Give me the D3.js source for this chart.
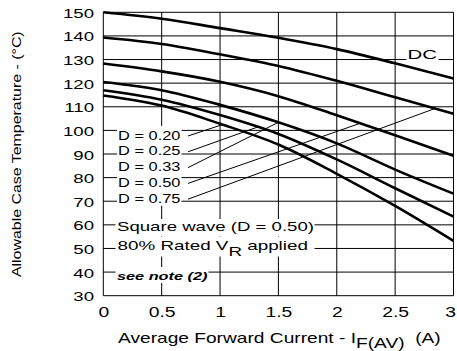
<!DOCTYPE html>
<html><head><meta charset="utf-8">
<script src="https://cdn.jsdelivr.net/npm/d3@7"></script>
<style>
body{margin:0;background:#fff}
svg{display:block}
text{font-family:"Liberation Sans",Arial,Helvetica,sans-serif;fill:#000}
</style>
</head><body>
<svg id="c" width="457" height="351"></svg>
<script>
// ---- data ----
const currents = [0, 0.5, 1, 1.5, 2, 2.5, 3];
const tempDC   = [150, 147.3, 143.3, 139.2, 134.4, 128.4, 122];
const tempD075 = [139.3, 136.6, 132.2, 127.3, 121, 114, 107];
const tempD050 = [128.3, 125, 120.6, 114.5, 106.4, 97.9, 89.3];
const tempD033 = [120.5, 117, 110.8, 103.4, 94.5, 83.4, 73.2];
const tempD025 = [117, 113, 106.5, 98.5, 87.7, 75.5, 63.5];
const tempD020 = [114.8, 110.5, 102.8, 94, 81.6, 68, 53.2];
const seriesTemps = [tempDC, tempD075, tempD050, tempD033, tempD025, tempD020];

const dutyLabels = ["D = 0.20", "D = 0.25", "D = 0.33", "D = 0.50", "D = 0.75"];
const dutySeries = [tempD020, tempD025, tempD033, tempD050, tempD075];
const dutyLeaderCurrent = [1.02, 1.32, 1.5, 2.2, 2.84];

const xTicks = [0, 0.5, 1, 1.5, 2, 2.5, 3];
const xTickLabels = ["0", "0.5", "1", "1.5", "2", "2.5", "3"];
const yTicks = [30, 40, 50, 60, 70, 80, 90, 100, 110, 120, 130, 140, 150];

const yTitle = "Allowable Case Temperature - (°C)";
const xTitleMain = "Average Forward Current - I";
const xTitleSub = "F(AV)";
const xTitleUnit = "\u00A0\u00A0(A)";
const dcLabel = "DC";
const noteLine1 = "Square wave (D = 0.50)";
const noteLine2a = "80% Rated V";
const noteLine2b = "R";
const noteLine2c = " applied";
const noteLine3 = "see note (2)";

// ---- chart ----
const svg = d3.select("#c");
const x = d3.scaleLinear().domain([0, 3]).range([103.3, 453.5]);
const y = d3.scaleLinear().domain([30, 150]).range([295.7, 12.3]);
const STRETCH = 1.38;

// grid
const grid = svg.append("g").attr("stroke", "#000").attr("stroke-width", 1);
grid.selectAll("line.v").data(xTicks).join("line").attr("class", "v")
  .attr("x1", d => x(d)).attr("x2", d => x(d))
  .attr("y1", y(30)).attr("y2", y(150));
grid.selectAll("line.h").data(yTicks).join("line").attr("class", "h")
  .attr("x1", x(0)).attr("x2", x(3))
  .attr("y1", d => y(d)).attr("y2", d => y(d));

// axes
const gx = svg.append("g").attr("transform", `translate(0,${y(30)})`)
  .call(d3.axisBottom(x).tickValues(xTicks).tickFormat((d, i) => xTickLabels[i]).tickSize(0).tickPadding(11));
gx.select(".domain").remove();
gx.attr("font-size", 14).attr("font-family", null);
gx.selectAll("text").attr("font-size", 14)
  .attr("x", (d, i) => i === xTicks.length - 1 ? -3.5 / STRETCH : 0)
  .attr("transform", `scale(${STRETCH},1)`);

const gy = svg.append("g").attr("transform", `translate(${x(0)},0)`)
  .call(d3.axisLeft(y).tickValues(yTicks).tickFormat(d3.format("d")).tickSize(0).tickPadding(9));
gy.select(".domain").remove();
gy.attr("font-size", 13.5).attr("font-family", null);
gy.selectAll("text").attr("font-size", 13.5).attr("x", -9.3 / STRETCH).attr("dy", "0.37em")
  .attr("transform", `scale(${STRETCH},1)`);

// helper for horizontally stretched text
function stretched(parent, x0, y0, anchor, size, target, build, extra) {
  const g = parent.append("g").attr("transform", `translate(${x0},${y0})` + (extra || ""));
  const t = g.append("text").attr("text-anchor", anchor).attr("font-size", size);
  build(t);
  const w = t.node().getComputedTextLength();
  t.attr("transform", `scale(${target / w},1)`);
  return t;
}

// white label boxes
const boxes = svg.append("g").attr("fill", "#fff");
const dutyBase = [139.5, 155.3, 171.1, 186.9, 202.7];
dutyBase.forEach(b => boxes.append("rect").attr("x", 117).attr("y", b - 13.6).attr("width", 64.5).attr("height", 16.6));
boxes.append("rect").attr("x", 115.5).attr("y", 219).attr("width", 199).attr("height", 17.5);
boxes.append("rect").attr("x", 115.5).attr("y", 237).attr("width", 199).attr("height", 19.5);
boxes.append("rect").attr("x", 115.5).attr("y", 267).attr("width", 93).attr("height", 16);
boxes.append("rect").attr("x", 406.5).attr("y", 46).attr("width", 32).attr("height", 15);

// texts
const txt = svg.append("g");
dutyLabels.forEach((lab, i) => {
  stretched(txt, 118, dutyBase[i], "start", 13.5, 62.5, t => t.text(lab));
});
stretched(txt, 117, 231.2, "start", 13.5, 197, t => t.text(noteLine1));
stretched(txt, 117.5, 250, "start", 13.5, 190.5, t => {
  t.append("tspan").text(noteLine2a);
  t.append("tspan").attr("dy", 6).text(noteLine2b);
  t.append("tspan").attr("dy", -6).text(noteLine2c);
});
stretched(txt, 117, 280, "start", 11, 90.5, t => t.attr("font-weight", "bold").attr("font-style", "italic").text(noteLine3));
stretched(txt, 407.5, 58.5, "start", 13.5, 29.5, t => t.text(dcLabel));

// axis titles
stretched(txt, 118, 342.5, "start", 14, 323, t => {
  t.append("tspan").text(xTitleMain);
  t.append("tspan").attr("dy", 5.5).text(xTitleSub);
  t.append("tspan").attr("dy", -5.5).text(xTitleUnit);
});
stretched(txt, 20.5, 154.2, "middle", 13.5, 246, t => t.text(yTitle), " rotate(-90)");

// curves
const line = d3.line().x((d, i) => x(currents[i])).y(d => y(d)).curve(d3.curveMonotoneX);
svg.append("g").attr("fill", "none").attr("stroke", "#000").attr("stroke-width", 2.6)
  .selectAll("path").data(seriesTemps).join("path").attr("d", line);

// leader lines
const leaders = svg.append("g").attr("stroke", "#000").attr("stroke-width", 1);
dutyLabels.forEach((lab, i) => {
  const interp = d3.scaleLinear().domain(currents).range(dutySeries[i]);
  const I = dutyLeaderCurrent[i];
  leaders.append("line")
    .attr("x1", 188).attr("y1", dutyBase[i] - 3.5)
    .attr("x2", x(I)).attr("y2", y(interp(I)));
});
</script>
</body></html>
